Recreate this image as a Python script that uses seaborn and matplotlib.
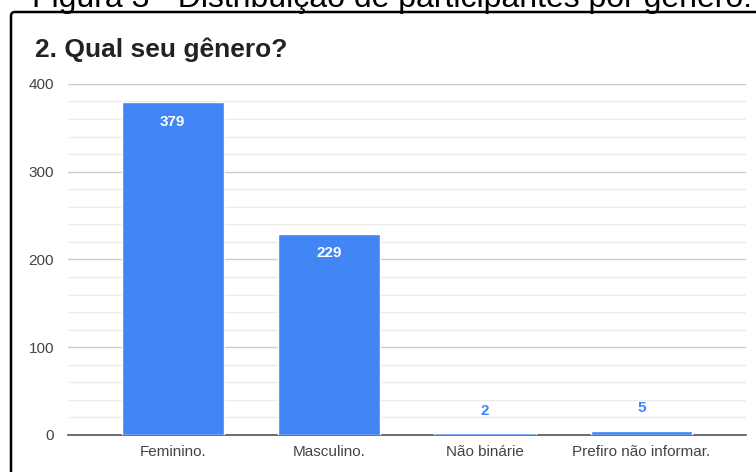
import matplotlib
matplotlib.use("Agg")
import matplotlib.pyplot as plt
import matplotlib.transforms as mtransforms
from matplotlib.patches import FancyBboxPatch
import seaborn as sns
import pandas as pd
from matplotlib.ticker import MultipleLocator

categories = ["Feminino.", "Masculino.", "Não binárie", "Prefiro não informar."]
values = [379, 229, 2, 5]
caption = "Figura 3 - Distribuição de participantes por gênero."
title = "2. Qual seu gênero?"

sns.set_theme(style="white")
plt.rcParams['font.family'] = ['Liberation Sans', 'DejaVu Sans']

df = pd.DataFrame({"cat": categories, "val": values})

fig = plt.figure(figsize=(7.56, 4.72), dpi=100)
ax = fig.add_axes([0.09, 0.0784, 0.897, 0.744])

blue = "#4285F4"
sns.barplot(data=df, x="cat", y="val", color=blue, width=0.65, ax=ax,
            saturation=1, zorder=3)

ax.set_ylim(0, 400)
ax.set_xlim(-0.67, 3.67)
ax.yaxis.set_major_locator(MultipleLocator(100))
ax.yaxis.set_minor_locator(MultipleLocator(20))
ax.grid(axis="y", which="major", color="#cccccc", linewidth=1, zorder=0)
ax.grid(axis="y", which="minor", color="#ebebeb", linewidth=1, zorder=0)
ax.set_axisbelow(True)
for s in ["top", "right", "left"]:
    ax.spines[s].set_visible(False)
ax.spines["bottom"].set_color("#555555")
ax.spines["bottom"].set_linewidth(1.2)
ax.spines["bottom"].set_zorder(2)
ax.tick_params(axis="both", which="both", length=0, labelsize=11, colors="#444444")
ax.tick_params(axis="y", pad=10)
ax.tick_params(axis="x", pad=7)
ax.set_xlabel("")
ax.set_ylabel("")

for i, v in enumerate(values):
    if v > 50:
        ax.annotate(str(v), (i, v), xytext=(0, -14), textcoords="offset points",
                    ha="center", va="center", color="white", fontsize=11,
                    fontweight="bold", zorder=5)
    else:
        ax.annotate(str(v), (i, v), xytext=(0, 16), textcoords="offset points",
                    ha="center", va="center", color=blue, fontsize=11,
                    fontweight="bold", zorder=5)

fig.text(35 / 756, 1 - 57 / 472, title, fontsize=19, fontweight="bold",
         color="#222222", ha="left", va="baseline")

fig.text(32 / 756, 1 - 7 / 472, caption, fontsize=23, color="#000000",
         ha="left", va="baseline")

frame = FancyBboxPatch((11, -40), 800, 472 - 12 + 40,
                       boxstyle="round,pad=0,rounding_size=4",
                       transform=mtransforms.IdentityTransform(),
                       fill=False, edgecolor="black", linewidth=1.8)
fig.patches.append(frame)

fig.savefig("out.png", dpi=100)
